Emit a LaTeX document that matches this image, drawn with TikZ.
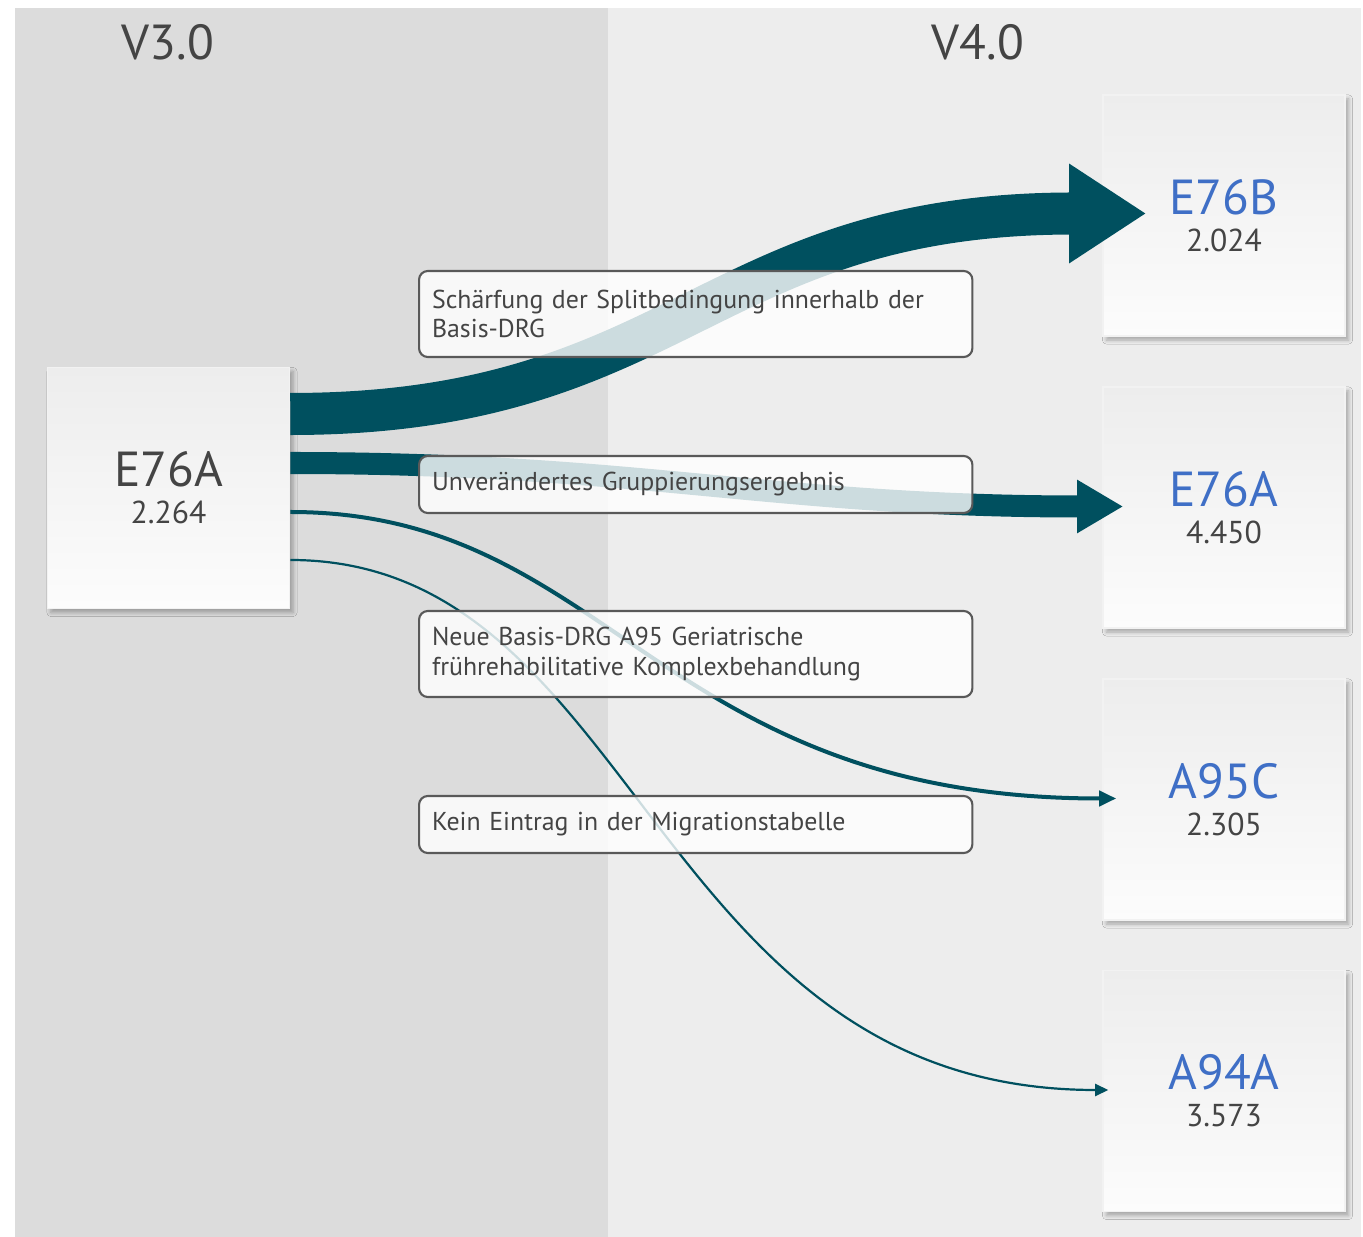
\documentclass[tikz,border=0pt]{standalone}
\usepackage{fontspec}
\setmainfont{PT Sans}
\usetikzlibrary{arrows.meta, calc, shadows.blur}
\definecolor{flowteal}{HTML}{00505F}
\definecolor{panelold}{HTML}{DCDCDC}
\definecolor{panelnew}{HTML}{EDEDED}
\definecolor{drgblue}{HTML}{3F6FC6}
\definecolor{textgray}{HTML}{444444}
\definecolor{boxtop}{HTML}{EDEDED}
\definecolor{boxbottom}{HTML}{FCFCFC}
\newcommand{\drglabel}[3]{{\fontsize{14}{14}\selectfont\color{#3}#1}\\[-1.5pt]{\fontsize{9}{10}\selectfont #2}}

\begin{document}
\begin{tikzpicture}[x=0.01cm, y=-0.01cm,
    drgbox/.style={minimum width=2.42cm, minimum height=2.41cm, inner sep=0pt, align=center,
        draw=black!5, top color=boxtop, bottom color=boxbottom, text=textgray,
        blur shadow={shadow xshift=0.035cm, shadow yshift=-0.04cm, shadow blur radius=0.04cm,
        shadow blur steps=5, shadow opacity=30}},
    notebox/.style={draw=black!65, line width=0.6pt, rounded corners=2.5pt, fill=white,
        fill opacity=0.8, text opacity=1, text=textgray, anchor=west, text width=5.27cm,
        inner xsep=0.13cm, align=left, font=\fontsize{7.35}{8.4}\selectfont},
    flow/.style={draw=flowteal}]
    \useasboundingbox (0,0) rectangle (1363,1237);
    % Panels
    \fill[panelold] (15,8) rectangle (608,1237);
    \fill[panelnew] (608,8) rectangle (1361,1237);
    \node[font=\fontsize{14}{16}\selectfont, text=textgray] (hdrold) at (168,42) {V3.0};
    \node[font=\fontsize{14}{16}\selectfont, text=textgray] (hdrnew) at (978,42) {V4.0};
    % DRG boxes
    \node[drgbox] (v3e76a) at (168.5,488) {\drglabel{E76A}{2.264}{textgray}};
    \node[drgbox] (v4e76b) at (1224,215.5) {\drglabel{E76B}{2.024}{drgblue}};
    \node[drgbox] (v4e76a) at (1224,507.5) {\drglabel{E76A}{4.450}{drgblue}};
    \node[drgbox] (v4a95c) at (1224,799.5) {\drglabel{A95C}{2.305}{drgblue}};
    \node[drgbox] (v4a94a) at (1224,1091) {\drglabel{A94A}{3.573}{drgblue}};
    % Flows
    \draw[flow, line width=0.42cm, -{Triangle[length=0.77cm, width=0.94cm]}]
        ($(v3e76a.east)+(0,-74)$) .. controls +(390,0) and +(-440,0) .. ($(v4e76b.west)+(44,-2)$);
    \draw[flow, line width=0.22cm, -{Triangle[length=0.46cm, width=0.5cm]}]
        ($(v3e76a.east)+(0,-25)$) .. controls +(350,0) and +(-350,0) .. ($(v4e76a.west)+(21,-1)$);
    \draw[flow, line width=0.04cm, -{Triangle[length=0.17cm, width=0.15cm]}]
        ($(v3e76a.east)+(0,24)$) .. controls +(320,0) and +(-460,0) .. ($(v4a95c.west)+(14,-1)$);
    \draw[flow, line width=0.022cm, -{Triangle[length=0.13cm, width=0.12cm]}]
        ($(v3e76a.east)+(0,72)$) .. controls +(350,0) and +(-458,0) .. ($(v4a94a.west)+(6,-1)$);
    % Notes
    \node[notebox, minimum height=0.86cm] (notesplit) at (418,314)
        {Schärfung der Splitbedingung innerhalb der\\Basis-DRG};
    \node[notebox, minimum height=0.57cm] (notesame) at (418,484.5)
        {Unverändertes Gruppierungsergebnis};
    \node[notebox, minimum height=0.86cm] (notenew) at (418,654)
        {Neue Basis-DRG A95 Geriatrische\\frührehabilitative Komplexbehandlung};
    \node[notebox, minimum height=0.57cm] (notenone) at (418,824.5)
        {Kein Eintrag in der Migrationstabelle};
\end{tikzpicture}
\end{document}
